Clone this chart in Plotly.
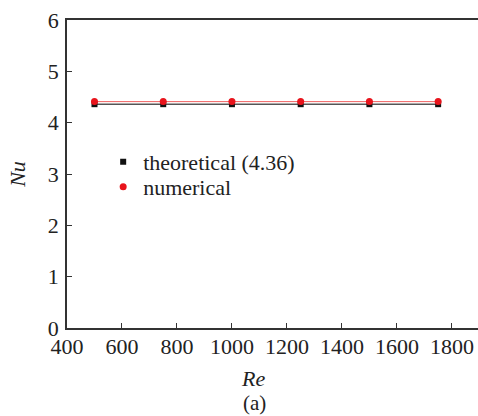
import plotly.graph_objects as go

re_vals = [500, 750, 1000, 1250, 1500, 1750]
nu_theoretical = [4.36, 4.36, 4.36, 4.36, 4.36, 4.36]
nu_numerical = [4.41, 4.41, 4.41, 4.41, 4.41, 4.41]
x_ticks = [400, 600, 800, 1000, 1200, 1400, 1600, 1800]
y_ticks = [0, 1, 2, 3, 4, 5, 6]

FONT = "Liberation Serif, Times New Roman, serif"
FS = 22
TXT = "#222222"

fig = go.Figure()
# lines (no legend)
fig.add_trace(go.Scatter(x=re_vals, y=nu_theoretical, mode="lines",
                         line=dict(color="#555555", width=1.6), showlegend=False, hoverinfo="skip"))
fig.add_trace(go.Scatter(x=re_vals, y=nu_numerical, mode="lines",
                         line=dict(color="#f06060", width=1), showlegend=False, hoverinfo="skip"))
# markers (legend)
fig.add_trace(go.Scatter(x=re_vals, y=nu_theoretical, mode="markers", name="theoretical (4.36)",
                         marker=dict(symbol="square", size=6, color="#111111"), legend="legend"))
fig.add_trace(go.Scatter(x=re_vals, y=nu_numerical, mode="markers", name="numerical",
                         marker=dict(symbol="circle", size=7, color="#e8141c"), legend="legend2"))

axis_common = dict(
    showgrid=False, zeroline=False, showline=True, linecolor="#333333", linewidth=1.5,
    ticks="inside", ticklen=5, tickwidth=1, tickcolor="#333333",
    tickfont=dict(family=FONT, size=FS, color=TXT),
)
fig.update_xaxes(range=[400, 1895], tickvals=x_ticks, ticktext=[str(v) for v in x_ticks],
                 mirror=True, ticklabelstandoff=-2, **axis_common)
fig.update_yaxes(range=[0, 6], tickvals=y_ticks, ticktext=[str(v) for v in y_ticks],
                 ticklabelstandoff=2,
                 title=dict(text="<i>Nu</i>", font=dict(family=FONT, size=FS, color=TXT), standoff=16),
                 **axis_common)

fig.add_annotation(text="<i>Re</i>", xref="paper", yref="paper", x=0.4526, y=-0.165,
                   xanchor="center", yanchor="middle", showarrow=False,
                   font=dict(family=FONT, size=FS, color=TXT))
fig.add_annotation(text="(a)", xref="paper", yref="paper", x=0.455, y=-0.243,
                   xanchor="center", yanchor="middle", showarrow=False,
                   font=dict(family=FONT, size=21, color=TXT))

legend_common = dict(xanchor="left", yanchor="top", bgcolor="rgba(0,0,0,0)",
                     font=dict(family=FONT, size=FS, color=TXT))
fig.update_layout(
    width=478, height=416,
    margin=dict(l=67, r=0, t=20, b=88),
    paper_bgcolor="white", plot_bgcolor="white",
    font=dict(family=FONT, size=FS, color=TXT),
    legend=dict(x=0.088, y=0.607, **legend_common),
    legend2=dict(x=0.088, y=0.526, **legend_common),
)

fig.write_html("out.html")
